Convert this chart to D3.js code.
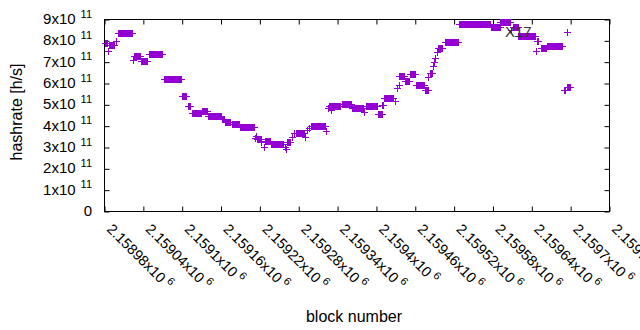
<!DOCTYPE html>
<html><head><meta charset="utf-8">
<script src="https://cdn.jsdelivr.net/npm/d3@7"></script>
<style>
body{margin:0;background:#fff}
svg{display:block}
text{font-family:"Liberation Sans",Arial,sans-serif}
</style>
</head><body>
<svg id="chart" width="640" height="330"></svg>
<script>
// Runs of consecutive blocks that share the same hashrate estimate (one "+" per block)
const runStart = [2158982,2158986,2158988,2158998,2159001,2159025,2159027,2159037,2159050,2159072,
  2159101,2159109,2159116,2159131,2159141,2159162,2159167,2159177,2159190,2159213,
  2159215,2159216,2159223,2159227,2159228,2159238,2159260,2159261,2159263,2159270,
  2159274,2159277,2159291,2159294,2159297,2159300,2159323,2159326,2159328,2159330,
  2159347,2159363,2159382,2159385,2159403,2159410,2159413,2159429,2159432,2159435,
  2159436,2159445,2159453,2159462,2159476,2159481,2159483,2159488,2159490,2159492,
  2159495,2159496,2159507,2159528,2159578,2159592,2159609,2159612,2159620,2159647,
  2159649,2159655,2159665,2159690,2159695,2159695];
const runEnd = [2158985,2158986,2158996,2158998,2159023,2159025,2159035,2159046,2159070,2159099,
  2159107,2159113,2159130,2159139,2159161,2159165,2159175,2159188,2159211,2159213,
  2159215,2159222,2159223,2159227,2159236,2159257,2159260,2159261,2159267,2159270,
  2159274,2159289,2159291,2159294,2159297,2159321,2159323,2159326,2159345,2159330,
  2159362,2159380,2159382,2159401,2159409,2159411,2159427,2159429,2159432,2159435,
  2159444,2159451,2159461,2159475,2159480,2159481,2159486,2159488,2159490,2159492,
  2159495,2159502,2159526,2159576,2159591,2159607,2159609,2159619,2159646,2159647,
  2159650,2159663,2159687,2159692,2159695,2159700];
const runRate = [7.86e11,7.50e11,7.76e11,7.95e11,8.33e11,7.08e11,7.27e11,7.03e11,7.35e11,6.17e11,
  5.38e11,4.90e11,4.58e11,4.69e11,4.44e11,4.33e11,4.16e11,4.06e11,3.92e11,3.44e11,
  3.53e11,3.37e11,3.23e11,3.01e11,3.28e11,3.13e11,3.01e11,2.89e11,3.25e11,3.48e11,
  3.67e11,3.64e11,3.48e11,3.80e11,3.90e11,3.98e11,3.77e11,4.84e11,4.90e11,4.75e11,
  5.00e11,4.83e11,4.65e11,4.92e11,4.53e11,4.97e11,5.28e11,5.16e11,5.78e11,5.90e11,
  6.34e11,6.08e11,6.41e11,5.90e11,5.67e11,6.28e11,6.45e11,6.81e11,6.97e11,7.16e11,
  7.44e11,7.65e11,7.91e11,8.75e11,8.64e11,8.88e11,8.48e11,8.64e11,8.20e11,7.50e11,
  7.97e11,7.66e11,7.72e11,5.67e11,8.38e11,5.80e11];

const xTicks = [2158980,2159040,2159100,2159160,2159220,2159280,2159340,2159400,2159460,2159520,2159580,2159640,2159700,2159760];
const xTickLabels = ["2.15898","2.15904","2.1591","2.15916","2.15922","2.15928","2.15934","2.1594","2.15946","2.15952","2.15958","2.15964","2.1597","2.15976"];
const xTickExp = "6";
const yTicks = [0,1e11,2e11,3e11,4e11,5e11,6e11,7e11,8e11,9e11];
const yTickLabels = ["0","1","2","3","4","5","6","7","8","9"];
const yTickExp = "11";

const L = 104.5, R = 609.5, T = 19.5, B = 211.5;
const COLOR = "#9400d3";
const svg = d3.select("#chart");

const x = d3.scaleLinear().domain([2158980, 2159760]).range([L, R]);
const y = d3.scaleLinear().domain([0, 9e11]).range([B, T]);

// frame
svg.append("rect").attr("x", L).attr("y", T).attr("width", R - L).attr("height", B - T)
  .attr("fill", "none").attr("stroke", "#000").attr("stroke-width", 1);

function styleAxis(g) {
  g.select(".domain").remove();
  g.attr("font-family", null).attr("font-size", null);
  g.selectAll(".tick line").attr("stroke", "#000");
}

// bottom axis with rotated labels
const gx = svg.append("g").attr("transform", `translate(0,${B})`)
  .call(d3.axisBottom(x).tickValues(xTicks).tickSizeInner(-5).tickSizeOuter(0).tickFormat((d, i) => xTickLabels[i]))
  .call(styleAxis);
gx.selectAll(".tick text").each(function (d, i) {
  const t = d3.select(this);
  t.text(null).attr("x", 0).attr("y", 0).attr("dy", null)
    .attr("text-anchor", "start").attr("fill", "#000").attr("font-size", 14.5)
    .attr("transform", "translate(1,18.5) rotate(45)");
  t.append("tspan").text(xTickLabels[i] + "x10");
  t.append("tspan").attr("font-size", 11).attr("dx", 3.5).attr("dy", -6).text(xTickExp);
});

// top mirror
svg.append("g").attr("transform", `translate(0,${T})`)
  .call(d3.axisTop(x).tickValues(xTicks).tickSizeInner(-5).tickSizeOuter(0).tickFormat(""))
  .call(styleAxis);

// left axis
const gy = svg.append("g").attr("transform", `translate(${L},0)`)
  .call(d3.axisLeft(y).tickValues(yTicks).tickSizeInner(-5).tickSizeOuter(0).tickFormat((d, i) => yTickLabels[i]))
  .call(styleAxis);
gy.selectAll(".tick text").each(function (d, i) {
  const t = d3.select(this);
  t.text(null).attr("x", -12.5).attr("y", 4).attr("dy", null)
    .attr("text-anchor", "end").attr("fill", "#000").attr("font-size", 15);
  if (d === 0) { t.text(yTickLabels[i]); return; }
  t.append("tspan").text(yTickLabels[i] + "x10");
  t.append("tspan").attr("font-size", 11).attr("dx", 5).attr("dy", -6.5).text(yTickExp);
});

// right mirror
svg.append("g").attr("transform", `translate(${R},0)`)
  .call(d3.axisRight(y).tickValues(yTicks).tickSizeInner(-5).tickSizeOuter(0).tickFormat(""))
  .call(styleAxis);

// points: one "+" per block
const points = [];
runStart.forEach((s, i) => {
  for (let b = s; b <= runEnd[i]; b++) points.push({ block: b, rate: runRate[i] });
});
const H = 3.5;
svg.append("g").selectAll("path").data(points).join("path")
  .attr("d", d => {
    const cx = Math.round(x(d.block) - 0.5) + 0.5, cy = Math.round(y(d.rate) - 0.5) + 0.5;
    return `M${cx - H},${cy}H${cx + H}M${cx},${cy - H}V${cy + H}`;
  })
  .attr("fill", "none").attr("stroke", COLOR).attr("stroke-width", 1);

// stray label
svg.append("text").attr("x", 505).attr("y", 37).attr("font-size", 15).attr("fill", "#333").text("X17");

// axis titles
svg.append("text").attr("x", 354).attr("y", 321.5).attr("text-anchor", "middle")
  .attr("font-size", 16).attr("fill", "#000").text("block number");
svg.append("text").attr("transform", "translate(22,112) rotate(-90)").attr("text-anchor", "middle")
  .attr("font-size", 16).attr("fill", "#000").text("hashrate [h/s]");
</script>
</body></html>
